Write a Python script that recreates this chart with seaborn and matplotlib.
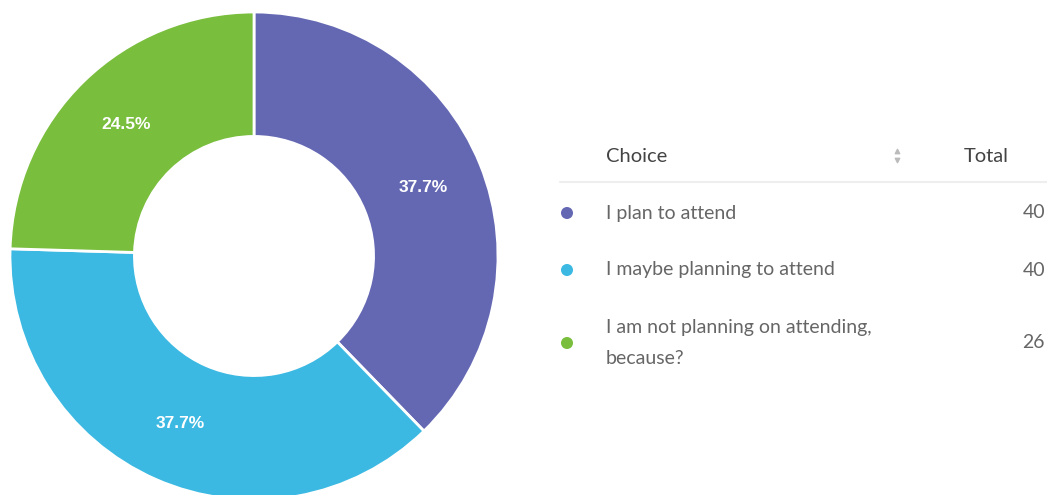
import matplotlib
matplotlib.use("Agg")
import matplotlib.pyplot as plt
import seaborn as sns
import pandas as pd
import numpy as np

choices = ["I plan to attend", "I maybe planning to attend",
           "I am not planning on attending,\nbecause?"]
totals = [40, 40, 26]
colors = ["#6468b3", "#3bb9e2", "#79be3d"]

sns.set_theme(style="white")
plt.rcParams["font.family"] = ["Lato", "DejaVu Sans"]

W, H = 1047, 495
fig = plt.figure(figsize=(W / 100, H / 100), dpi=100)

# donut
ax = fig.add_axes([10 / W, -5 / H, 488 / W, 488 / H])
pct = [100 * t / sum(totals) for t in totals]
wedges, _ = ax.pie(totals, colors=colors, startangle=90, counterclock=False,
                   radius=1, wedgeprops=dict(width=0.51, edgecolor="white", linewidth=2))
for w, p in zip(wedges, pct):
    mid = np.deg2rad((w.theta1 + w.theta2) / 2)
    r = 0.75
    ax.text(r * np.cos(mid), r * np.sin(mid), f"{p:.1f}%", color="white",
            ha="center", va="center", fontsize=12.5, fontweight="bold",
            family=["Liberation Sans", "DejaVu Sans"])
ax.set_xlim(-1, 1)
ax.set_ylim(-1, 1)
ax.set_aspect("equal")
ax.axis("off")

# table
tx = fig.add_axes([540 / W, 0, 507 / W, 1])
tx.set_xlim(540, 1047)
tx.set_ylim(495, 0)
tx.axis("off")

row_y = [213, 270, 343]
df = pd.DataFrame({"choice": choices, "total": totals, "y": row_y,
                   "x": [567] * 3})
sns.scatterplot(data=df, x="x", y="y", hue="choice", palette=colors,
                s=75, edgecolor="none", legend=False, ax=tx)

tx.text(606, 156, "Choice", fontsize=14.5, color="#444444", va="center")
tx.text(964, 156, "Total", fontsize=14.5, color="#444444", va="center")
tx.scatter([897], [151], marker="^", s=10, color="#bbbbbb")
tx.scatter([897], [160], marker="v", s=10, color="#bbbbbb")
tx.plot([560, 1047], [182, 182], color="#eeeeee", lw=1.5)

for c, t, y in zip(choices, totals, row_y):
    tx.text(606, y, c, fontsize=14, color="#666666", va="center",
            linespacing=2.05)
    tx.text(1045, y, str(t), fontsize=14, color="#666666", va="center",
            ha="right")

fig.savefig("out.png", dpi=100)
